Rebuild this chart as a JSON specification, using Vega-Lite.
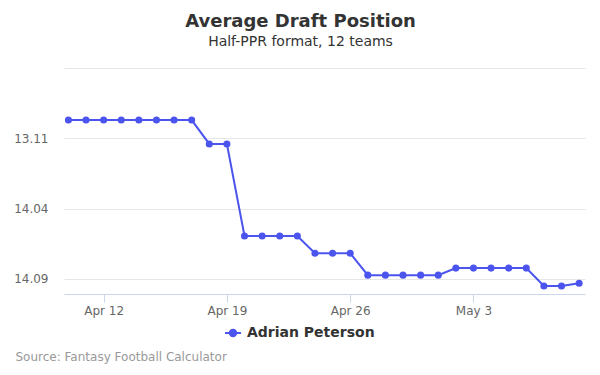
{
  "$schema": "https://vega.github.io/schema/vega-lite/v6.json",
  "autosize": {"type": "none"},
  "width": 521,
  "height": 226,
  "padding": {"left": 64, "top": 68, "right": 15, "bottom": 81},
  "background": "white",
  "title": {
    "text": "Average Draft Position",
    "subtitle": "Half-PPR format, 12 teams",
    "anchor": "middle",
    "frame": "group",
    "dx": -24,
    "offset": 19,
    "font": "DejaVu Sans",
    "fontSize": 18,
    "fontWeight": "bold",
    "color": "#333333",
    "subtitleFont": "DejaVu Sans",
    "subtitleFontSize": 14,
    "subtitleColor": "#333333",
    "subtitlePadding": 4
  },
  "config": {
    "view": {"stroke": null},
    "font": "DejaVu Sans"
  },
  "data": {
    "values": [
      {"date": "2018-04-10", "adp": 153.7, "player": "Adrian Peterson"},
      {"date": "2018-04-11", "adp": 153.7, "player": "Adrian Peterson"},
      {"date": "2018-04-12", "adp": 153.7, "player": "Adrian Peterson"},
      {"date": "2018-04-13", "adp": 153.7, "player": "Adrian Peterson"},
      {"date": "2018-04-14", "adp": 153.7, "player": "Adrian Peterson"},
      {"date": "2018-04-15", "adp": 153.7, "player": "Adrian Peterson"},
      {"date": "2018-04-16", "adp": 153.7, "player": "Adrian Peterson"},
      {"date": "2018-04-17", "adp": 153.7, "player": "Adrian Peterson"},
      {"date": "2018-04-18", "adp": 155.4, "player": "Adrian Peterson"},
      {"date": "2018-04-19", "adp": 155.4, "player": "Adrian Peterson"},
      {"date": "2018-04-20", "adp": 161.95, "player": "Adrian Peterson"},
      {"date": "2018-04-21", "adp": 161.95, "player": "Adrian Peterson"},
      {"date": "2018-04-22", "adp": 161.95, "player": "Adrian Peterson"},
      {"date": "2018-04-23", "adp": 161.95, "player": "Adrian Peterson"},
      {"date": "2018-04-24", "adp": 163.17, "player": "Adrian Peterson"},
      {"date": "2018-04-25", "adp": 163.17, "player": "Adrian Peterson"},
      {"date": "2018-04-26", "adp": 163.17, "player": "Adrian Peterson"},
      {"date": "2018-04-27", "adp": 164.73, "player": "Adrian Peterson"},
      {"date": "2018-04-28", "adp": 164.73, "player": "Adrian Peterson"},
      {"date": "2018-04-29", "adp": 164.73, "player": "Adrian Peterson"},
      {"date": "2018-04-30", "adp": 164.73, "player": "Adrian Peterson"},
      {"date": "2018-05-01", "adp": 164.73, "player": "Adrian Peterson"},
      {"date": "2018-05-02", "adp": 164.23, "player": "Adrian Peterson"},
      {"date": "2018-05-03", "adp": 164.23, "player": "Adrian Peterson"},
      {"date": "2018-05-04", "adp": 164.23, "player": "Adrian Peterson"},
      {"date": "2018-05-05", "adp": 164.23, "player": "Adrian Peterson"},
      {"date": "2018-05-06", "adp": 164.23, "player": "Adrian Peterson"},
      {"date": "2018-05-07", "adp": 165.5, "player": "Adrian Peterson"},
      {"date": "2018-05-08", "adp": 165.5, "player": "Adrian Peterson"},
      {"date": "2018-05-09", "adp": 165.3, "player": "Adrian Peterson"}
    ]
  },
  "encoding": {
    "x": {
      "field": "date",
      "type": "temporal",
      "scale": {
        "type": "utc",
        "domain": [
          {"year": 2018, "month": "apr", "date": 9, "hours": 18, "utc": true},
          {"year": 2018, "month": "may", "date": 9, "hours": 8, "utc": true}
        ]
      },
      "axis": {
        "title": "Source: Fantasy Football Calculator",
        "titleAnchor": "start",
        "titleAlign": "left",
        "titleBaseline": "middle",
        "titleX": -49,
        "titleY": 62,
        "titleFont": "DejaVu Sans",
        "titleFontSize": 12,
        "titleFontWeight": "normal",
        "titleColor": "#999999",
        "values": [
          {"year": 2018, "month": "apr", "date": 12, "utc": true},
          {"year": 2018, "month": "apr", "date": 19, "utc": true},
          {"year": 2018, "month": "apr", "date": 26, "utc": true},
          {"year": 2018, "month": "may", "date": 3, "utc": true}
        ],
        "labelExpr": "utcFormat(datum.value, '%b %-d')",
        "grid": false,
        "domainColor": "#ccd6eb",
        "tickColor": "#ccd6eb",
        "tickSize": 8,
        "labelColor": "#666666",
        "labelFontSize": 12,
        "labelPadding": 3,
        "labelFont": "DejaVu Sans"
      }
    },
    "y": {
      "field": "adp",
      "type": "quantitative",
      "scale": {"domain": [150, 166.07], "reverse": true, "nice": false, "zero": false},
      "axis": {
        "title": null,
        "values": [150, 155, 160, 165],
        "labelExpr": "datum.value == 150 ? '' : (floor((datum.value - 1) / 12) + 1) + '.' + ((((datum.value - 1) % 12) + 1) < 10 ? '0' : '') + (((datum.value - 1) % 12) + 1)",
        "domain": false,
        "ticks": false,
        "gridColor": "#e6e6e6",
        "labelColor": "#666666",
        "labelFontSize": 12,
        "labelPadding": 16,
        "labelFont": "DejaVu Sans"
      }
    },
    "color": {
      "field": "player",
      "type": "nominal",
      "scale": {"range": ["#4b55ed"]},
      "legend": {
        "title": null,
        "orient": "none",
        "legendX": 160,
        "legendY": 256,
        "symbolType": "M -1 0 L 1 0 M 0.4 0 A 0.4 0.4 0 1 1 -0.4 0 A 0.4 0.4 0 1 1 0.4 0",
        "symbolSize": 256,
        "symbolStrokeWidth": 2,
        "symbolFillColor": "#4b55ed",
        "symbolStrokeColor": "#4b55ed",
        "labelFont": "DejaVu Sans",
        "labelFontSize": 14,
        "labelFontWeight": "bold",
        "labelColor": "#333333",
        "labelOffset": 5
      }
    }
  },
  "layer": [
    {"mark": {"type": "line", "strokeWidth": 2}},
    {"mark": {"type": "point", "filled": true, "size": 50, "opacity": 1}}
  ]
}
